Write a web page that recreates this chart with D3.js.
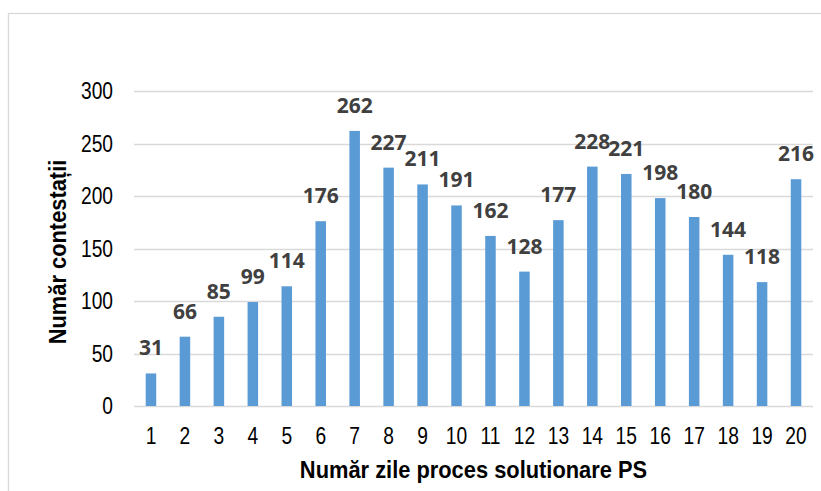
<!DOCTYPE html>
<html>
<head>
<meta charset="utf-8">
<script src="https://cdn.jsdelivr.net/npm/d3@7"></script>
<style>
  body { margin: 0; background: #fff; }
  svg { display: block; }
</style>
</head>
<body>
<script>
const width = 821;
const height = 491;
const margin = { top: 91, right: 8, bottom: 85, left: 134 };

// data
const days = ["1", "2", "3", "4", "5", "6", "7", "8", "9", "10",
  "11", "12", "13", "14", "15", "16", "17", "18", "19", "20"];
const counts = [31, 66, 85, 99, 114, 176, 262, 227, 211, 191,
  162, 128, 177, 228, 221, 198, 180, 144, 118, 216];
const yTicks = [0, 50, 100, 150, 200, 250, 300];

const narrow = "'Liberation Sans Narrow', 'Arial Narrow', 'Liberation Sans', sans-serif";
const squeeze = 0.8; // no narrow font installed, so squash the tick labels
const titleSqueeze = 0.93;

const svg = d3.select("body").append("svg")
  .attr("width", width)
  .attr("height", height);

// outer chart frame (runs off the picture at right and bottom)
svg.append("rect")
  .attr("x", 8.5)
  .attr("y", 13.5)
  .attr("width", 830)
  .attr("height", 500)
  .attr("fill", "white")
  .attr("stroke", "#d9d9d9")
  .attr("stroke-width", 1.3);

const x = d3.scaleBand()
  .domain(days)
  .range([margin.left, width - margin.right])
  .paddingInner(0.69)
  .paddingOuter(0.345);

const y = d3.scaleLinear()
  .domain([0, 300])
  .range([406, margin.top]);

// gridlines
svg.append("g")
  .selectAll("line")
  .data(yTicks)
  .join("line")
  .attr("x1", margin.left)
  .attr("x2", width - margin.right)
  .attr("y1", d => Math.round(y(d)) + 0.5)
  .attr("y2", d => Math.round(y(d)) + 0.5)
  .attr("stroke", "#d9d9d9")
  .attr("stroke-width", 1.3);

// y axis labels
const yAxis = d3.axisLeft(y).tickValues(yTicks).tickSize(0).tickPadding(21);
svg.append("g")
  .attr("transform", `translate(${margin.left}, 0)`)
  .call(yAxis)
  .call(g => g.select(".domain").remove())
  .selectAll("text")
  .attr("x", -21 / squeeze)
  .attr("transform", `scale(${squeeze}, 1)`)
  .attr("font-family", narrow)
  .attr("font-size", "24px")
  .attr("fill", "#000");

// x axis labels
const xAxis = d3.axisBottom(x).tickSize(0).tickPadding(21);
svg.append("g")
  .attr("transform", `translate(0, 406)`)
  .call(xAxis)
  .call(g => g.select(".domain").remove())
  .selectAll("text")
  .attr("transform", `scale(${squeeze}, 1)`)
  .attr("font-family", narrow)
  .attr("font-size", "24px")
  .attr("fill", "#000");

// bars
svg.append("g")
  .selectAll("rect")
  .data(counts)
  .join("rect")
  .attr("x", (d, i) => x(days[i]))
  .attr("y", d => y(d))
  .attr("width", x.bandwidth())
  .attr("height", d => y(0) - y(d))
  .attr("fill", "#5b9bd5");

// value labels
svg.append("g")
  .selectAll("text")
  .data(counts)
  .join("text")
  .attr("x", (d, i) => x(days[i]) + x.bandwidth() / 2)
  .attr("y", d => y(d) - 18)
  .attr("text-anchor", "middle")
  .attr("font-family", "'Open Sans', sans-serif")
  .attr("font-weight", "bold")
  .attr("font-size", "21px")
  .attr("fill", "#404040")
  .text(d => d);

// axis titles
svg.append("text")
  .attr("transform", `translate(${(margin.left + width - margin.right) / 2}, 478) scale(${titleSqueeze}, 1)`)
  .attr("text-anchor", "middle")
  .attr("font-family", narrow)
  .attr("font-weight", "bold")
  .attr("font-size", "23.5px")
  .attr("fill", "#000")
  .text("Număr zile proces solutionare PS");

svg.append("text")
  .attr("transform", `translate(66, 252) rotate(-90) scale(${titleSqueeze}, 1)`)
  .attr("text-anchor", "middle")
  .attr("font-family", narrow)
  .attr("font-weight", "bold")
  .attr("font-size", "23.5px")
  .attr("fill", "#000")
  .text("Număr contestații");
</script>
</body>
</html>
